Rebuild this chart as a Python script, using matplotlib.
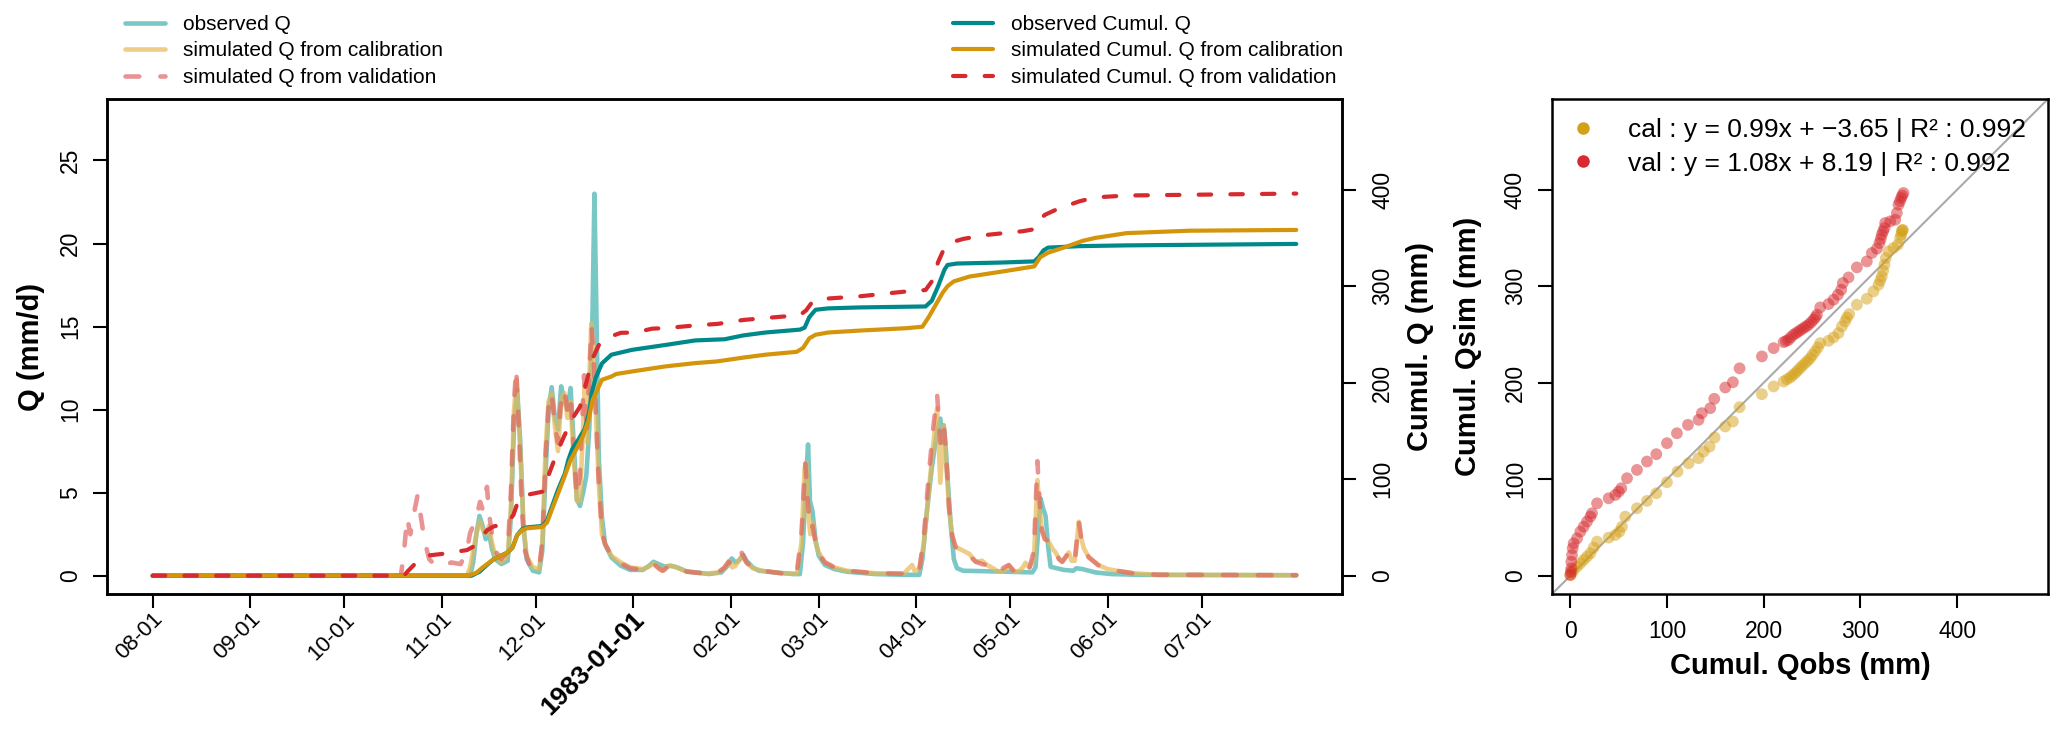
import matplotlib
matplotlib.use("Agg")
import matplotlib.pyplot as plt
import matplotlib.transforms as mtransforms
from matplotlib.lines import Line2D

plt.rcParams['font.family'] = ['Liberation Sans', 'DejaVu Sans']

# ---------------- data (day offsets from 1982-08-01) ----------------
month_days = [0, 31, 61, 92, 122, 153, 184, 212, 243, 273, 304, 334]
month_labels = ['08-01', '09-01', '10-01', '11-01', '12-01', '1983-01-01',
                '02-01', '03-01', '04-01', '05-01', '06-01', '07-01']

obs_q_day = [0, 101, 102, 103, 104, 105, 106, 107, 108, 109, 111, 113, 114, 115, 116, 117, 118, 119, 121, 123,
             124, 125, 126, 127, 128, 129, 130, 131, 132, 133, 134, 135, 136, 137, 138, 139, 140, 140.6, 141.3,
             142, 143, 144, 146, 149, 152, 156, 158, 159.4, 161, 163, 165, 167, 170, 174, 177, 181, 183, 184.3,
             185.5, 186.5, 188, 189, 191, 193, 198, 204, 206, 207, 208, 208.6, 209.2, 210, 211, 212, 214, 217,
             221, 230, 238, 244, 245, 246.5, 248, 249.5, 250.7, 251.3, 251.8, 252.5, 253, 254, 255, 256, 258,
             270, 280, 281, 282, 282.6, 283.5, 284.2, 285, 285.8, 290, 293, 294, 296, 300, 305, 315, 364]
obs_q = [0, 0, 0.8, 2.5, 3.6, 3.0, 2.2, 2.6, 1.6, 1.0, 0.7, 0.9, 3.5, 9.0, 11.2, 8.0, 3.0, 1.0, 0.3, 0.2,
         1.5, 6.0, 10.0, 11.35, 9.5, 8.8, 11.4, 10.5, 10.0, 11.3, 8.0, 4.6, 4.2, 5.0, 6.0, 9.0, 16.0, 23.0, 15.0,
         7.0, 3.5, 1.9, 1.1, 0.6, 0.35, 0.35, 0.6, 0.84, 0.7, 0.55, 0.6, 0.5, 0.25, 0.18, 0.1, 0.2, 0.6, 1.04,
         0.8, 0.9, 1.24, 0.9, 0.5, 0.3, 0.2, 0.1, 0.1, 2.0, 6.0, 7.9, 4.5, 3.9, 2.1, 1.2, 0.64, 0.4,
         0.24, 0.1, 0.06, 0.05, 1.0, 4.0, 6.5, 8.5, 9.46, 8.0, 9.06, 7.5, 5.9, 3.1, 1.0, 0.45, 0.3,
         0.25, 0.2, 0.5, 3.0, 4.65, 4.0, 3.6, 1.8, 0.54, 0.35, 0.3, 0.45, 0.4, 0.2, 0.1, 0.05, 0.03]

cal_q_day = [0, 100, 101, 102, 103, 104, 105, 106, 107, 108, 109, 111, 113, 114, 115, 115.8, 117, 118, 119, 121,
             123, 124, 125, 126, 127, 128, 129, 130, 131, 132, 133, 134, 135, 136, 137, 137.5, 138.3, 139, 139.6,
             140.4, 141, 142, 143, 144, 146, 149, 152, 156, 158, 159.5, 161, 162, 164, 166, 170, 176, 180, 182,
             183.5, 184.5, 185.5, 187.5, 189, 191, 194, 200, 205, 206.5, 207.5, 208, 208.8, 209.3, 210, 211, 212,
             214, 217, 221, 230, 239, 241.7, 242.5, 244, 245.5, 247, 248.5, 249.7, 250.7, 251.8, 252.5, 253.5,
             254.5, 255.5, 257, 258.7, 260, 262, 264, 265.6, 267, 269.3, 271, 272.5, 274, 275.5, 277, 277.8, 279,
             280.5, 281.6, 282.3, 283, 284, 285, 286.5, 287.4, 288.5, 289.5, 290.5, 291.6, 292.5, 293.5, 294.8,
             295.5, 296.4, 298, 301, 304, 307.5, 312, 320, 364]
cal_q = [0, 0, 0.5, 1.5, 2.5, 3.3, 2.8, 2.5, 3.0, 2.0, 1.2, 0.8, 1.2, 4.0, 10.0, 11.8, 7.5, 3.0, 1.2, 0.5,
         0.4, 2.0, 7.5, 10.5, 11.0, 9.0, 7.5, 10.6, 11.0, 9.5, 10.5, 7.0, 4.5, 4.5, 9.0, 11.5, 8.0, 12.0, 15.2,
         13.0, 10.0, 5.5, 2.5, 1.9, 1.2, 0.8, 0.5, 0.4, 0.55, 0.75, 0.5, 0.3, 0.6, 0.55, 0.25, 0.12, 0.2, 0.45,
         0.9, 0.5, 0.6, 1.2, 0.8, 0.45, 0.3, 0.15, 0.12, 2.0, 6.5, 6.8, 3.5, 2.5, 3.2, 2.0, 1.4,
         0.8, 0.5, 0.3, 0.15, 0.12, 0.64, 0.3, 0.4, 2.0, 5.0, 8.0, 10.1, 5.6, 9.0, 7.0, 4.0,
         2.4, 1.74, 1.6, 1.44, 1.3, 0.84, 0.9, 0.64, 0.5, 0.24, 0.3, 0.64, 0.3, 0.24, 0.5, 0.78, 0.5,
         1.0, 5.76, 4.0, 2.8, 2.2, 2.1, 1.6, 1.4, 1.0, 0.84, 1.1, 1.4, 0.9, 0.9, 3.25,
         2.3, 1.64, 1.1, 0.64, 0.4, 0.28, 0.15, 0.06, 0.03]

val_q_day = [0, 79, 80, 81, 82, 83, 84.3, 85.4, 86.5, 88, 90, 93, 95, 98, 100, 101, 102, 103, 104.2, 105, 106.4,
             107, 108, 109, 111, 113, 114, 115, 115.7, 116.5, 117.5, 118.5, 120, 123, 124, 125, 126, 127, 128,
             129, 130, 131, 132, 133, 134, 135, 136, 137.3, 138.2, 139, 139.7, 140.5, 141, 142, 143, 144, 146,
             149, 152, 156, 158, 159.5, 161, 162.5, 164, 166, 170, 176, 180, 182, 183.3, 184.5, 186, 187.5, 189,
             191, 194, 200, 205, 206.5, 207.7, 208.5, 209.3, 210, 211, 212, 214, 217, 221, 230, 240, 244, 245.5,
             247, 248.5, 249.7, 250.7, 251.8, 252.5, 253.5, 254.5, 255.5, 257, 258.7, 260, 262, 264, 265.6, 267,
             269.3, 271, 272.5, 274, 276, 277.8, 279, 280.5, 281.6, 282.3, 283, 284, 285, 286.5, 287.4, 288.5,
             289.5, 290.5, 291.6, 292.5, 293.5, 294.8, 295.5, 296.4, 298, 301, 304, 307.5, 312, 320, 364]
val_q = [0, 0, 1.5, 3.5, 2.5, 3.6, 4.85, 3.5, 2.14, 1.0, 0.6, 0.6, 0.8, 0.7, 1.5, 2.56, 3.0, 3.5, 4.45, 4.0, 5.35,
         3.8, 2.5, 1.5, 1.0, 1.5, 5.0, 10.5, 12.47, 9.0, 4.0, 1.5, 0.6, 0.4, 2.0, 7.0, 10.2, 11.0, 9.0,
         8.0, 10.6, 11.2, 10.0, 10.8, 7.5, 4.8, 6.0, 12.07, 8.5, 12.5, 15.0, 12.5, 10.0, 5.5, 2.6, 1.9, 1.2,
         0.75, 0.45, 0.35, 0.5, 0.7, 0.45, 0.3, 0.55, 0.5, 0.25, 0.12, 0.2, 0.5, 0.84, 0.6, 0.7, 1.38, 0.8,
         0.45, 0.3, 0.15, 0.12, 2.5, 6.75, 4.5, 2.8, 3.0, 2.0, 1.3, 0.8, 0.5, 0.3, 0.15, 0.12, 0.3, 2.5,
         6.0, 9.0, 10.87, 8.0, 9.06, 7.5, 4.0, 2.4, 1.74, 1.5, 1.44, 1.2, 0.84, 0.7, 0.64, 0.45,
         0.24, 0.5, 0.64, 0.3, 0.3, 0.6, 0.4, 1.5, 6.9, 4.5, 2.75, 2.2, 2.1, 1.6, 1.4, 1.0,
         0.84, 1.1, 1.4, 0.9, 0.9, 3.25, 2.3, 1.64, 1.1, 0.64, 0.4, 0.28, 0.15, 0.06, 0.03]

obs_cum_day = [0, 101.5, 104, 106, 108.5, 111, 113, 114.5, 116, 117.5, 119, 124, 125.5, 127, 129, 131.2, 132.3,
               133.5, 135.5, 137.5, 139, 139.7, 141, 143, 146, 152.5, 163, 172.7, 182, 188, 195, 206, 207.5,
               209, 211, 215, 225, 246, 248, 250, 252, 253, 256, 270, 280.6, 282, 283.5, 285, 295, 310, 364]
obs_cum = [0, 0, 4, 10, 17, 21, 24, 29, 42, 48, 50, 51.5, 57, 71, 89, 106, 120,
           131, 141, 152, 170, 189, 205, 220, 229, 234, 239, 243.8, 245, 249, 252, 255, 257,
           268, 275.6, 277, 278, 279, 285, 300, 317, 322, 323.5, 324.5, 325.7, 330, 337, 340, 341.5, 342.3, 343.8]

cal_cum_day = [0, 100.5, 103, 105, 108.5, 111, 113, 114.5, 116, 117.5, 119, 124, 125.5, 127, 129, 131, 133, 135,
               137, 138.7, 140, 142, 143, 146, 147.5, 152.5, 163, 172.7, 179.5, 188, 195, 205, 207, 209, 211, 215,
               225, 240, 245, 247, 250, 251.4, 253, 255, 260, 270, 280.6, 282.5, 285, 290, 296, 300, 310, 330, 364]
cal_cum = [0, 0, 3, 8.5, 17, 21, 24, 29, 42, 47, 49, 50.5, 55, 68, 85, 102, 120, 132,
           145, 161, 182, 196, 203, 206.4, 209, 211.6, 216.8, 220.3, 222, 226, 229, 232, 236, 246, 249.7, 252,
           254, 256.5, 258, 268, 285, 293, 300, 305, 310, 315, 320.5, 330, 334.7, 340, 347, 350, 355, 357.5, 358.3]

val_cum_day = [0, 80, 81, 82.5, 84.3, 86, 88, 92, 100, 102, 104.2, 106.4, 108.5, 111.3, 113, 114.8, 116.3, 118,
               121, 124, 124.8, 126.2, 129, 131, 134, 136, 138, 140, 142, 145, 149, 153.6, 159, 163, 171.5, 180,
               188, 195, 206, 208, 210, 214, 225, 240, 246, 248, 250, 251.5, 253.7, 258, 265, 277, 280.5, 282,
               284, 288, 295, 300, 310, 364]
val_cum = [0, 0, 4, 9, 15, 19, 21, 22.5, 26.5, 30, 38, 47, 51, 53, 55, 63, 77, 83,
           85, 87, 90.5, 106, 130, 145, 165, 175, 200, 225, 239, 247, 251.7, 252, 256, 256.5, 259, 261,
           265, 267, 270, 275, 284, 287, 289.5, 294.6, 296, 305, 325, 336, 345, 349, 353, 357, 359, 368,
           374, 380, 388, 392, 394, 396]

# scatter: cumulative observed vs simulated (mm)
cal_sc_obs = [0, 1.5, 3.4, 6.9, 10.3, 13.8, 17.2, 20.7, 24, 27.6, 39.6, 46.5, 50.6, 53.4, 56.8, 68.9, 79.2,
              88.9, 99.9, 110.9, 122.3, 132.6, 137.8, 144, 149.2, 160.2, 168.1, 175, 198.1, 210.2, 220.5, 224,
              227.4, 230, 232.6, 235, 237.7, 240, 242.9, 245.5, 248.1, 250.5, 253.2, 256, 258.4, 267, 272.2, 277.3,
              280.8, 284.2, 286, 288.4, 296.3, 306.6, 313.5, 318.7, 320.5, 322.1, 323.5, 324.9, 326.3, 329, 334.2,
              338.7, 341.1, 342.2, 342.8, 343.5, 343.8]
cal_sc_sim = [0.7, 3, 5.9, 9.3, 12.8, 16.3, 19.7, 23.2, 29, 35.3, 39.4, 42.2, 45.6, 50.8, 61.2, 69.9, 77.5,
              85.4, 96.8, 107.9, 116.5, 121.7, 128.6, 133.8, 143.2, 154.6, 159.8, 174.6, 188.1, 196.1, 201.2, 203.5,
              205.4, 207.8, 209.9, 212.5, 215.1, 217.7, 220.3, 222.8, 225.4, 228.8, 232.4, 236.5, 241, 243.4, 246.9,
              251.4, 258.3, 263.5, 267.5, 271.1, 280.8, 287, 294.6, 301.5, 305.8, 310.2, 316, 322.3, 329.2, 336.1,
              339.6, 343, 349.9, 353.5, 356.8, 358, 358.3]
val_sc_obs = [0, 0.5, 1, 1, 1.7, 2.4, 3.4, 6.9, 10.3, 13.8, 17.2, 20.7, 22.4, 27.6, 39.6, 46.5, 50, 52.7, 58.6,
              68.9, 79.2, 88.9, 99.9, 110.2, 121.6, 132.6, 136, 144.7, 148.8, 160.2, 168.1, 175, 198.1, 210.2,
              220.5, 223, 225.7, 228, 230.8, 233.5, 236, 238.5, 241.2, 243.8, 246.3, 249, 251.5, 253.5, 255, 258.4,
              267, 272.2, 276.7, 280.1, 281.8, 287.7, 296.3, 306.6, 311.8, 317, 319.7, 321, 322.1, 323.5, 324.9,
              325.6, 330.8, 336, 337.7, 339.4, 340.8, 342.1, 343.3, 344.5]
val_sc_sim = [0.7, 4, 7.6, 14.5, 21.4, 28.4, 33.5, 38.7, 45.6, 50.8, 56, 61.2, 64.7, 75, 80.2, 83.7, 87.1, 90.6,
              101, 109.6, 118.3, 125.9, 137.3, 147.6, 156.3, 161.5, 168.4, 173.6, 183.3, 195, 200.5, 214.9, 227.2,
              235.8, 242, 243.2, 244.5, 247.1, 249.7, 251.4, 253.1, 254.8, 256.6, 258.3, 260, 262.6, 265.2, 267.8,
              270.4, 278, 281.5, 286, 291.1, 296.3, 303.3, 309.1, 319.5, 325.7, 334.4, 338.9, 344.7, 349, 353.4,
              357, 360.3, 365.5, 367.2, 368.9, 375.9, 384.5, 388, 391.4, 394, 396.6]

cal_label = 'cal : y = 0.99x + \u22123.65 | R\u00b2 : 0.992'
val_label = 'val : y = 1.08x + 8.19 | R\u00b2 : 0.992'

# ---------------- styles ----------------
C_OBS_Q, C_CAL_Q, C_VAL_Q = '#4DB6B4', '#E6B955', '#E06666'
C_OBS_C, C_CAL_C, C_VAL_C = '#00898A', '#D4950B', '#D62A2E'
DASH = (3.0, 4.6)

W, H = 2067, 741
fig = plt.figure(figsize=(W / 100, H / 100), dpi=100)


def px_axes(x0, y0, x1, y1):
    return fig.add_axes([x0 / W, 1 - y1 / H, (x1 - x0) / W, (y1 - y0) / H])


TICK_LEN = 10
TICK_W = 1.5
SPINE_W = 1.8
TICK_FS = 16.5
LAB_FS = 21

# ---------------- main hydrograph ----------------
ax = px_axes(107, 99, 1342, 594)
ax.set_xlim(-14.56, 378.56)
ax.set_ylim(-1.1, 28.7)

l_obs, = ax.plot(obs_q_day, obs_q, color=C_OBS_Q, lw=3.3, alpha=0.75, solid_capstyle='round',
                 solid_joinstyle='round', label='observed Q')
l_cal, = ax.plot(cal_q_day, cal_q, color=C_CAL_Q, lw=3.3, alpha=0.7, solid_capstyle='round',
                 solid_joinstyle='round', label='simulated Q from calibration')
l_val, = ax.plot(val_q_day, val_q, color=C_VAL_Q, lw=3.3, alpha=0.7, dashes=DASH, dash_capstyle='round',
                 label='simulated Q from validation')

ax.set_xticks(month_days)
ax.set_xticklabels(month_labels)
ax.set_yticks([0, 5, 10, 15, 20, 25])
ax.tick_params(axis='both', length=TICK_LEN, width=TICK_W, labelsize=TICK_FS, direction='out')
ax.tick_params(axis='y', pad=8)
ax.tick_params(axis='x', pad=6)
for t in ax.get_yticklabels():
    t.set_rotation(90)
    t.set_va('center')
offset = mtransforms.ScaledTranslation(7 / 100, 0, fig.dpi_scale_trans)
for i, t in enumerate(ax.get_xticklabels()):
    t.set_rotation(45)
    t.set_ha('right')
    t.set_va('center')
    t.set_rotation_mode('anchor')
    t.set_fontsize(16)
    t.set_transform(t.get_transform() + offset)
    if month_labels[i].startswith('1983'):
        t.set_fontweight('bold')
        t.set_fontsize(19)
for s in ax.spines.values():
    s.set_linewidth(SPINE_W)

ax.set_ylabel('Q (mm/d)', fontsize=LAB_FS, fontweight='bold', va='center')
ax.yaxis.set_label_coords((30.6 - 107) / 1235, 0.5)

ax2 = ax.twinx()
ax2.set_ylim(-19, 494)
c_obs, = ax2.plot(obs_cum_day, obs_cum, color=C_OBS_C, lw=3.0, solid_capstyle='round',
                  label='observed Cumul. Q')
c_cal, = ax2.plot(cal_cum_day, cal_cum, color=C_CAL_C, lw=3.0, solid_capstyle='round',
                  label='simulated Cumul. Q from calibration')
c_val, = ax2.plot(val_cum_day, val_cum, color=C_VAL_C, lw=3.0, dashes=DASH, dash_capstyle='round',
                  label='simulated Cumul. Q from validation')
ax2.set_yticks([0, 100, 200, 300, 400])
ax2.tick_params(axis='y', length=TICK_LEN, width=TICK_W, labelsize=TICK_FS, pad=11)
for t in ax2.get_yticklabels():
    t.set_rotation(90)
    t.set_va('center')
for s in ax2.spines.values():
    s.set_linewidth(SPINE_W)
ax2.set_ylabel('Cumul. Q (mm)', fontsize=LAB_FS, fontweight='bold', va='center', rotation=90)
ax2.yaxis.set_label_coords((1420 - 107) / 1235, 0.5)

leg_kw = dict(frameon=False, fontsize=15, handlelength=1.9, handletextpad=0.9, labelspacing=0.36,
              borderpad=0, borderaxespad=0, loc='upper left')
fig.legend(handles=[l_obs, l_cal, l_val], bbox_to_anchor=(125 / W, 1 - 15 / H), **leg_kw)
fig.legend(handles=[c_obs, c_cal, c_val], bbox_to_anchor=(953 / W, 1 - 15 / H), **leg_kw)

# ---------------- scatter ----------------
axs = px_axes(1552, 99, 2048, 594)
axs.set_xlim(-19, 494)
axs.set_ylim(-19, 494)
axs.plot([-19, 494], [-19, 494], color='#AAAAAA', lw=1.5, zorder=1)
axs.scatter(cal_sc_obs, cal_sc_sim, s=72, color='#D4A017', alpha=0.5, edgecolors='none', zorder=2)
axs.scatter(val_sc_obs, val_sc_sim, s=72, color='#D62A2E', alpha=0.5, edgecolors='none', zorder=3)
axs.set_xticks([0, 100, 200, 300, 400])
axs.set_yticks([0, 100, 200, 300, 400])
axs.tick_params(axis='both', length=TICK_LEN, width=TICK_W, labelsize=TICK_FS)
axs.tick_params(axis='y', pad=8)
axs.tick_params(axis='x', pad=9)
for t in axs.get_yticklabels():
    t.set_rotation(90)
    t.set_va('center')
for s in axs.spines.values():
    s.set_linewidth(SPINE_W)
axs.set_xlabel('Cumul. Qobs (mm)', fontsize=21, fontweight='bold', va='center')
axs.xaxis.set_label_coords(0.5, (594 - 666) / 495)
axs.set_ylabel('Cumul. Qsim (mm)', fontsize=LAB_FS, fontweight='bold', va='center')
axs.yaxis.set_label_coords((1468 - 1552) / 496, 0.5)

h_cal = Line2D([], [], ls='none', marker='o', markersize=8, color='#D4A017')
h_val = Line2D([], [], ls='none', marker='o', markersize=8, color='#D62A2E')
axs.legend(handles=[h_cal, h_val], labels=[cal_label, val_label], frameon=False, fontsize=19,
           handlelength=1.0, handletextpad=1.2, labelspacing=0.36, borderpad=0, borderaxespad=0,
           loc='upper left', bbox_to_anchor=((1570 - 1552) / 496, (594 - 118) / 495))

fig.savefig('out.png', dpi=100)
